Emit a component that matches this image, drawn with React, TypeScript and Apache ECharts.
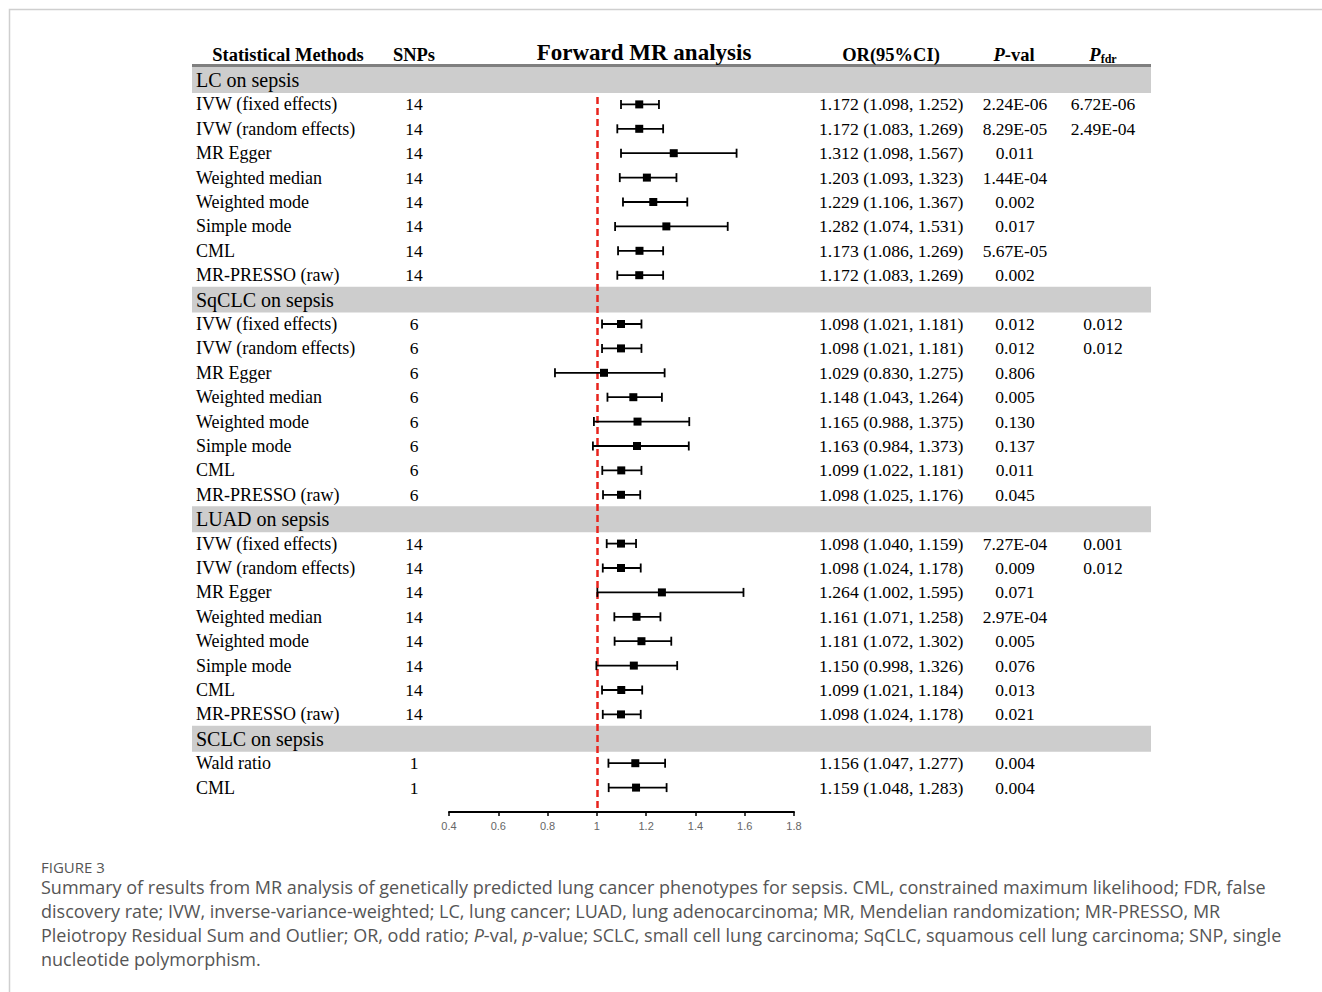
import React, { useEffect, useRef } from "react";
import * as echarts from "echarts";

// ---------- data ----------
const groups = ["LC on sepsis", "SqCLC on sepsis", "LUAD on sepsis", "SCLC on sepsis"];

const fullMethods = [
  "IVW (fixed effects)",
  "IVW (random effects)",
  "MR Egger",
  "Weighted median",
  "Weighted mode",
  "Simple mode",
  "CML",
  "MR-PRESSO (raw)",
];
const sclcMethods = ["Wald ratio", "CML"];

const lcSnps = [14, 14, 14, 14, 14, 14, 14, 14];
const lcOr = [1.172, 1.172, 1.312, 1.203, 1.229, 1.282, 1.173, 1.172];
const lcLo = [1.098, 1.083, 1.098, 1.093, 1.106, 1.074, 1.086, 1.083];
const lcHi = [1.252, 1.269, 1.567, 1.323, 1.367, 1.531, 1.269, 1.269];
const lcP = ["2.24E-06", "8.29E-05", "0.011", "1.44E-04", "0.002", "0.017", "5.67E-05", "0.002"];
const lcPfdr = ["6.72E-06", "2.49E-04", "", "", "", "", "", ""];

const sqSnps = [6, 6, 6, 6, 6, 6, 6, 6];
const sqOr = [1.098, 1.098, 1.029, 1.148, 1.165, 1.163, 1.099, 1.098];
const sqLo = [1.021, 1.021, 0.83, 1.043, 0.988, 0.984, 1.022, 1.025];
const sqHi = [1.181, 1.181, 1.275, 1.264, 1.375, 1.373, 1.181, 1.176];
const sqP = ["0.012", "0.012", "0.806", "0.005", "0.130", "0.137", "0.011", "0.045"];
const sqPfdr = ["0.012", "0.012", "", "", "", "", "", ""];

const luadSnps = [14, 14, 14, 14, 14, 14, 14, 14];
const luadOr = [1.098, 1.098, 1.264, 1.161, 1.181, 1.15, 1.099, 1.098];
const luadLo = [1.04, 1.024, 1.002, 1.071, 1.072, 0.998, 1.021, 1.024];
const luadHi = [1.159, 1.178, 1.595, 1.258, 1.302, 1.326, 1.184, 1.178];
const luadP = ["7.27E-04", "0.009", "0.071", "2.97E-04", "0.005", "0.076", "0.013", "0.021"];
const luadPfdr = ["0.001", "0.012", "", "", "", "", "", ""];

const sclcSnps = [1, 1];
const sclcOr = [1.156, 1.159];
const sclcLo = [1.047, 1.048];
const sclcHi = [1.277, 1.283];
const sclcP = ["0.004", "0.004"];
const sclcPfdr = ["", ""];

const xTicks = [0.4, 0.6, 0.8, 1, 1.2, 1.4, 1.6, 1.8];
const nullValue = 1;

const captionLines = [
  "Summary of results from MR analysis of genetically predicted lung cancer phenotypes for sepsis. CML, constrained maximum likelihood; FDR, false",
  "discovery rate; IVW, inverse-variance-weighted; LC, lung cancer; LUAD, lung adenocarcinoma; MR, Mendelian randomization; MR-PRESSO, MR",
  "Pleiotropy Residual Sum and Outlier; OR, odd ratio; {i|P}-val, {i|p}-value; SCLC, small cell lung carcinoma; SqCLC, squamous cell lung carcinoma; SNP, single",
  "nucleotide polymorphism.",
];

// ---------- build rows ----------
type Row = {
  band: boolean;
  label: string;
  snp?: number;
  or?: number;
  lo?: number;
  hi?: number;
  p?: string;
  pfdr?: string;
};

const groupData = [
  { methods: fullMethods, snps: lcSnps, or: lcOr, lo: lcLo, hi: lcHi, p: lcP, pfdr: lcPfdr },
  { methods: fullMethods, snps: sqSnps, or: sqOr, lo: sqLo, hi: sqHi, p: sqP, pfdr: sqPfdr },
  { methods: fullMethods, snps: luadSnps, or: luadOr, lo: luadLo, hi: luadHi, p: luadP, pfdr: luadPfdr },
  { methods: sclcMethods, snps: sclcSnps, or: sclcOr, lo: sclcLo, hi: sclcHi, p: sclcP, pfdr: sclcPfdr },
];

const rows: Row[] = [];
groups.forEach((g, gi) => {
  rows.push({ band: true, label: g });
  const d = groupData[gi];
  d.methods.forEach((m, i) => {
    rows.push({
      band: false,
      label: m,
      snp: d.snps[i],
      or: d.or[i],
      lo: d.lo[i],
      hi: d.hi[i],
      p: d.p[i],
      pfdr: d.pfdr[i],
    });
  });
});

const SERIF = "'Liberation Serif', 'Times New Roman', serif";
const CAPF = "'Open Sans', sans-serif";

export default function App() {
  const ref = useRef<HTMLDivElement>(null);

  useEffect(() => {
    document.body.style.margin = "0";
    const chart = echarts.init(ref.current!, null, { renderer: "svg" });

    const bandData = rows.map((r, i) => (r.band ? [i] : null)).filter((x) => x) as number[][];
    const ciData = rows
      .map((r, i) => (r.band ? null : [r.or, r.lo, r.hi, i]))
      .filter((x) => x) as number[][];
    const textData = rows.map((r, i) => [nullValue, i]);

    const hdr = (text: string, x: number, y: number, size: number) => ({
      type: "text",
      x,
      y,
      z: 20,
      style: { text, font: `bold ${size}px ${SERIF}`, fill: "#000", align: "center", verticalAlign: "middle" },
    });

    const option: any = {
      animation: false,
      backgroundColor: "#ffffff",
      grid: { left: 449, right: 1322 - 794, top: 67.8, bottom: 992 - 812 },
      xAxis: {
        type: "value",
        min: 0.4,
        max: 1.8,
        interval: 0.2,
        splitLine: { show: false },
        axisLine: { show: true, onZero: false, lineStyle: { color: "#000", width: 2 } },
        axisTick: { show: true, length: 4, lineStyle: { color: "#000", width: 1.5 } },
        axisLabel: {
          color: "#666",
          fontSize: 11,
          fontFamily: "'Liberation Sans', Arial, sans-serif",
          margin: 8,
          formatter: (v: number) => {
            const t = xTicks.find((x) => Math.abs(x - v) < 1e-6);
            return t === undefined ? "" : String(t);
          },
        },
      },
      yAxis: { type: "value", min: -0.5, max: 30, inverse: true, show: false },
      graphic: [
        {
          type: "rect",
          shape: { x: 9.5, y: 9.5, width: 1340, height: 1000 },
          style: { fill: "none", stroke: "#cfcfcf", lineWidth: 1.5 },
          z: 0,
        },
        {
          type: "rect",
          shape: { x: 192, y: 64, width: 959, height: 3 },
          style: { fill: "#7f7f7f" },
          z: 10,
        },
        hdr("Statistical Methods", 288, 55, 18.5),
        hdr("SNPs", 414, 55, 18.5),
        hdr("Forward MR analysis", 644, 52, 23),
        hdr("OR(95%CI)", 891, 55, 18.5),
        {
          type: "text",
          x: 1014,
          y: 55,
          z: 20,
          style: {
            text: "{i|P}{b|-val}",
            align: "center",
            verticalAlign: "middle",
            rich: {
              i: { fontFamily: SERIF, fontSize: 18.5, fontWeight: "bold", fontStyle: "italic", fill: "#000" },
              b: { fontFamily: SERIF, fontSize: 18.5, fontWeight: "bold", fill: "#000" },
            },
          },
        },
        {
          type: "text",
          x: 1103,
          y: 55,
          z: 20,
          style: {
            text: "{i|P}{s|fdr}",
            align: "center",
            verticalAlign: "middle",
            rich: {
              i: { fontFamily: SERIF, fontSize: 18.5, fontWeight: "bold", fontStyle: "italic", fill: "#000", verticalAlign: "bottom" },
              s: { fontFamily: SERIF, fontSize: 12, fontWeight: "bold", fill: "#000", verticalAlign: "bottom", padding: [5, 0, 0, 0] },
            },
          },
        },
        {
          type: "text",
          x: 41,
          y: 867,
          style: { text: "FIGURE 3", font: `15px ${CAPF}`, fill: "#555", verticalAlign: "middle" },
        },
        ...captionLines.map((t, i) => ({
          type: "text",
          x: 41,
          y: 887 + i * 24,
          style: {
            text: t,
            fill: "#555",
            fontFamily: CAPF,
            fontSize: 18,
            verticalAlign: "middle",
            rich: {
              i: { fontFamily: CAPF, fontSize: 18, fontStyle: "italic", fill: "#555" },
            },
          },
        })),
      ],
      series: [
        {
          type: "custom",
          name: "bands",
          clip: false,
          silent: true,
          z: 1,
          data: bandData,
          encode: { y: 0 },
          renderItem: (params: any, api: any) => {
            const i = api.value(0);
            const top = api.coord([1, i - 0.53])[1];
            const bot = api.coord([1, i + 0.53])[1];
            return {
              type: "rect",
              shape: { x: 192, y: top, width: 959, height: bot - top },
              style: { fill: "#cdcdcd" },
            };
          },
        },
        {
          type: "custom",
          name: "ci",
          clip: false,
          silent: true,
          z: 3,
          data: ciData,
          encode: { x: [0, 1, 2], y: 3 },
          renderItem: (params: any, api: any) => {
            const y = api.value(3);
            const c = api.coord([api.value(0), y]);
            const l = api.coord([api.value(1), y]);
            const h = api.coord([api.value(2), y]);
            const cap = 4.5;
            const s = 8;
            const ls = { stroke: "#000", lineWidth: 1.8 };
            return {
              type: "group",
              children: [
                { type: "line", shape: { x1: l[0], y1: c[1], x2: h[0], y2: c[1] }, style: ls },
                { type: "line", shape: { x1: l[0], y1: c[1] - cap, x2: l[0], y2: c[1] + cap }, style: ls },
                { type: "line", shape: { x1: h[0], y1: c[1] - cap, x2: h[0], y2: c[1] + cap }, style: ls },
                { type: "rect", shape: { x: c[0] - s / 2, y: c[1] - s / 2, width: s, height: s }, style: { fill: "#000" } },
              ],
            };
          },
          markLine: {
            symbol: "none",
            silent: true,
            z: 2,
            label: { show: false },
            lineStyle: { color: "#e8231c", type: [7, 4], width: 2.5 },
            data: [[{ coord: [nullValue, 0.7] }, { coord: [nullValue, 30] }]],
          },
        },
        {
          type: "custom",
          name: "table",
          clip: false,
          silent: true,
          z: 4,
          data: textData,
          encode: { x: 0, y: 1 },
          renderItem: (params: any, api: any) => {
            const r = rows[params.dataIndex];
            const y = api.coord([1, api.value(1)])[1];
            const base = { fill: "#000", verticalAlign: "middle" };
            if (r.band) {
              return {
                type: "text",
                x: 196,
                y,
                style: { ...base, text: r.label, font: `20px ${SERIF}`, align: "left" },
              };
            }
            const orText = `${r.or!.toFixed(3)} (${r.lo!.toFixed(3)}, ${r.hi!.toFixed(3)})`;
            return {
              type: "group",
              children: [
                { type: "text", x: 196, y, style: { ...base, text: r.label, font: `18px ${SERIF}`, align: "left" } },
                { type: "text", x: 414, y, style: { ...base, text: String(r.snp), font: `17.5px ${SERIF}`, align: "center" } },
                { type: "text", x: 819, y, style: { ...base, text: orText, font: `17.7px ${SERIF}`, align: "left" } },
                { type: "text", x: 1015, y, style: { ...base, text: r.p, font: `17.5px ${SERIF}`, align: "center" } },
                { type: "text", x: 1103, y, style: { ...base, text: r.pfdr, font: `17.5px ${SERIF}`, align: "center" } },
              ],
            };
          },
        },
      ],
    };

    chart.setOption(option);
    return () => chart.dispose();
  }, []);

  return <div ref={ref} style={{ width: 1322, height: 992 }} />;
}
